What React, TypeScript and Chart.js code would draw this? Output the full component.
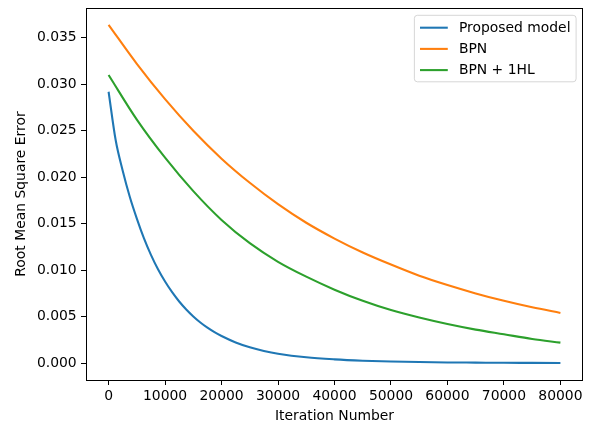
import { useEffect, useRef } from "react";
import { Chart, registerables } from "chart.js";

Chart.register(...registerables);

// Training curves: RMSE against iteration count
const proposedIterations = [
  0, 1250, 2500, 3750, 5000, 6250, 7500, 8750, 10000, 11250, 12500, 13750,
  15000, 16250, 17500, 18750, 20000, 22500, 25000, 27500, 30000, 35000, 40000,
  45000, 50000, 55000, 60000, 65000, 70000, 75000, 80000,
];
const proposedRmse = [
  0.0292, 0.024, 0.0207, 0.0179, 0.01555, 0.01345, 0.01165, 0.0101, 0.00878,
  0.00763, 0.00663, 0.00577, 0.00502, 0.00437, 0.00381, 0.00333, 0.00291,
  0.00222, 0.0017, 0.00131, 0.00101, 0.00062, 0.0004, 0.00026, 0.00017,
  0.00011, 0.00007, 0.00005, 0.00003, 0.00002, 0.00001,
];

const iterations = [
  0, 5000, 10000, 15000, 20000, 25000, 30000, 35000, 40000, 45000, 50000,
  55000, 60000, 65000, 70000, 75000, 80000,
];
const bpnRmse = [
  0.0364, 0.0322, 0.0284, 0.025, 0.022, 0.0194, 0.0171, 0.0151, 0.0134,
  0.0119, 0.0106, 0.0094, 0.0084, 0.0075, 0.0067, 0.006, 0.0054,
];
const bpnHiddenRmse = [
  0.031, 0.0262, 0.0221, 0.0185, 0.0154, 0.0129, 0.0109, 0.0093, 0.0079,
  0.0067, 0.0057, 0.0049, 0.0042, 0.0036, 0.0031, 0.0026, 0.0022,
];

const seriesLabels = ["Proposed model", "BPN", "BPN + 1HL"];
const seriesColors = ["#1f77b4", "#ff7f0e", "#2ca02c"];

const xTicks = [0, 10000, 20000, 30000, 40000, 50000, 60000, 70000, 80000];
const yTicks = [0, 0.005, 0.01, 0.015, 0.02, 0.025, 0.03, 0.035];

const FONT = "'DejaVu Sans', sans-serif";
const FONT_SIZE = 13.9;

const toPoints = (xs: number[], ys: number[]) =>
  xs.map((x, i) => ({ x, y: ys[i] }));

// Frame around the plot area plus an in-plot legend box
const framePlugin = {
  id: "frameAndLegend",
  afterDraw(chart: any) {
    const { ctx, chartArea } = chart;
    const { left, right, top, bottom } = chartArea;
    ctx.save();
    ctx.strokeStyle = "#000";
    ctx.lineWidth = 1;
    ctx.strokeRect(
      Math.round(left) + 0.5,
      Math.round(top) + 0.5,
      Math.round(right - left) - 1,
      Math.round(bottom - top)
    );

    // legend
    ctx.font = `${FONT_SIZE}px ${FONT}`;
    const datasets = chart.data.datasets;
    const pad = 5.6;
    const handleLen = 27.8;
    const handleGap = 11.1;
    const rowStep = 21.2;
    const textW = Math.max(
      ...datasets.map((d: any) => ctx.measureText(d.label).width)
    );
    const boxW = pad + handleLen + handleGap + textW + pad;
    const boxH = 66.5;
    const boxR = right - 6.9;
    const boxL = boxR - boxW;
    const boxT = top + 7.3;
    const r = 3;
    ctx.beginPath();
    ctx.moveTo(boxL + r, boxT);
    ctx.lineTo(boxR - r, boxT);
    ctx.arcTo(boxR, boxT, boxR, boxT + r, r);
    ctx.lineTo(boxR, boxT + boxH - r);
    ctx.arcTo(boxR, boxT + boxH, boxR - r, boxT + boxH, r);
    ctx.lineTo(boxL + r, boxT + boxH);
    ctx.arcTo(boxL, boxT + boxH, boxL, boxT + boxH - r, r);
    ctx.lineTo(boxL, boxT + r);
    ctx.arcTo(boxL, boxT, boxL + r, boxT, r);
    ctx.closePath();
    ctx.fillStyle = "rgba(255,255,255,0.8)";
    ctx.fill();
    ctx.strokeStyle = "rgba(204,204,204,0.8)";
    ctx.lineWidth = 1;
    ctx.stroke();

    datasets.forEach((d: any, i: number) => {
      const cy = boxT + 12.4 + i * rowStep;
      ctx.beginPath();
      ctx.strokeStyle = d.borderColor;
      ctx.lineWidth = 2.08;
      ctx.moveTo(boxL + pad, cy);
      ctx.lineTo(boxL + pad + handleLen, cy);
      ctx.stroke();
      ctx.fillStyle = "#000";
      ctx.textAlign = "left";
      ctx.textBaseline = "middle";
      ctx.fillText(d.label, boxL + pad + handleLen + handleGap, cy + 0.5);
    });
    ctx.restore();
  },
};

export default function App() {
  const canvasRef = useRef<HTMLCanvasElement | null>(null);

  useEffect(() => {
    if (!canvasRef.current) return;
    const series = [
      toPoints(proposedIterations, proposedRmse),
      toPoints(iterations, bpnRmse),
      toPoints(iterations, bpnHiddenRmse),
    ];
    const chart = new Chart(canvasRef.current, {
      type: "line",
      data: {
        datasets: series.map((data, i) => ({
          label: seriesLabels[i],
          data,
          borderColor: seriesColors[i],
          backgroundColor: seriesColors[i],
          borderWidth: 2.08,
          pointRadius: 0,
          cubicInterpolationMode: "monotone" as const,
          fill: false,
        })),
      },
      options: {
        responsive: false,
        animation: false,
        devicePixelRatio: 1,
        layout: { padding: { top: 8, right: 7, left: 0, bottom: 0 } },
        plugins: {
          legend: { display: false },
          tooltip: { enabled: false },
        },
        scales: {
          x: {
            type: "linear",
            min: -4000,
            max: 84000,
            afterBuildTicks: (scale: any) => {
              scale.ticks = xTicks.map((v) => ({ value: v }));
            },
            afterFit: (scale: any) => {
              scale.height = 45;
              scale.paddingLeft = 0;
              scale.paddingRight = 0;
            },
            grid: {
              display: true,
              drawOnChartArea: false,
              drawTicks: true,
              tickLength: 5,
              color: "#000",
              lineWidth: 1,
            },
            border: { display: false },
            ticks: {
              color: "#000",
              font: { family: FONT, size: FONT_SIZE },
              padding: 3,
              maxRotation: 0,
              autoSkip: false,
              callback: (v: any) => String(v),
            },
            title: {
              display: true,
              text: "Iteration Number",
              color: "#000",
              font: { family: FONT, size: FONT_SIZE },
              padding: { top: 0, bottom: 0 },
            },
          },
          y: {
            type: "linear",
            min: -0.00182,
            max: 0.03821,
            afterBuildTicks: (scale: any) => {
              scale.ticks = yTicks.map((v) => ({ value: v }));
            },
            afterFit: (scale: any) => {
              scale.width = 86;
              scale.paddingTop = 0;
              scale.paddingBottom = 0;
            },
            grid: {
              display: true,
              drawOnChartArea: false,
              drawTicks: true,
              tickLength: 5,
              color: "#000",
              lineWidth: 1,
            },
            border: { display: false },
            ticks: {
              color: "#000",
              font: { family: FONT, size: FONT_SIZE },
              padding: 4.3,
              autoSkip: false,
              callback: (v: any) => Number(v).toFixed(3),
            },
            title: {
              display: true,
              text: "Root Mean Square Error",
              color: "#000",
              font: { family: FONT, size: FONT_SIZE },
              padding: { top: 13.5, bottom: 0 },
            },
          },
        },
      },
      plugins: [framePlugin],
    });
    return () => chart.destroy();
  }, []);

  return (
    <div
      style={{
        position: "fixed",
        left: 0,
        top: 0,
        width: 590,
        height: 425,
        background: "#fff",
      }}
    >
      <canvas ref={canvasRef} width={590} height={425} />
    </div>
  );
}
